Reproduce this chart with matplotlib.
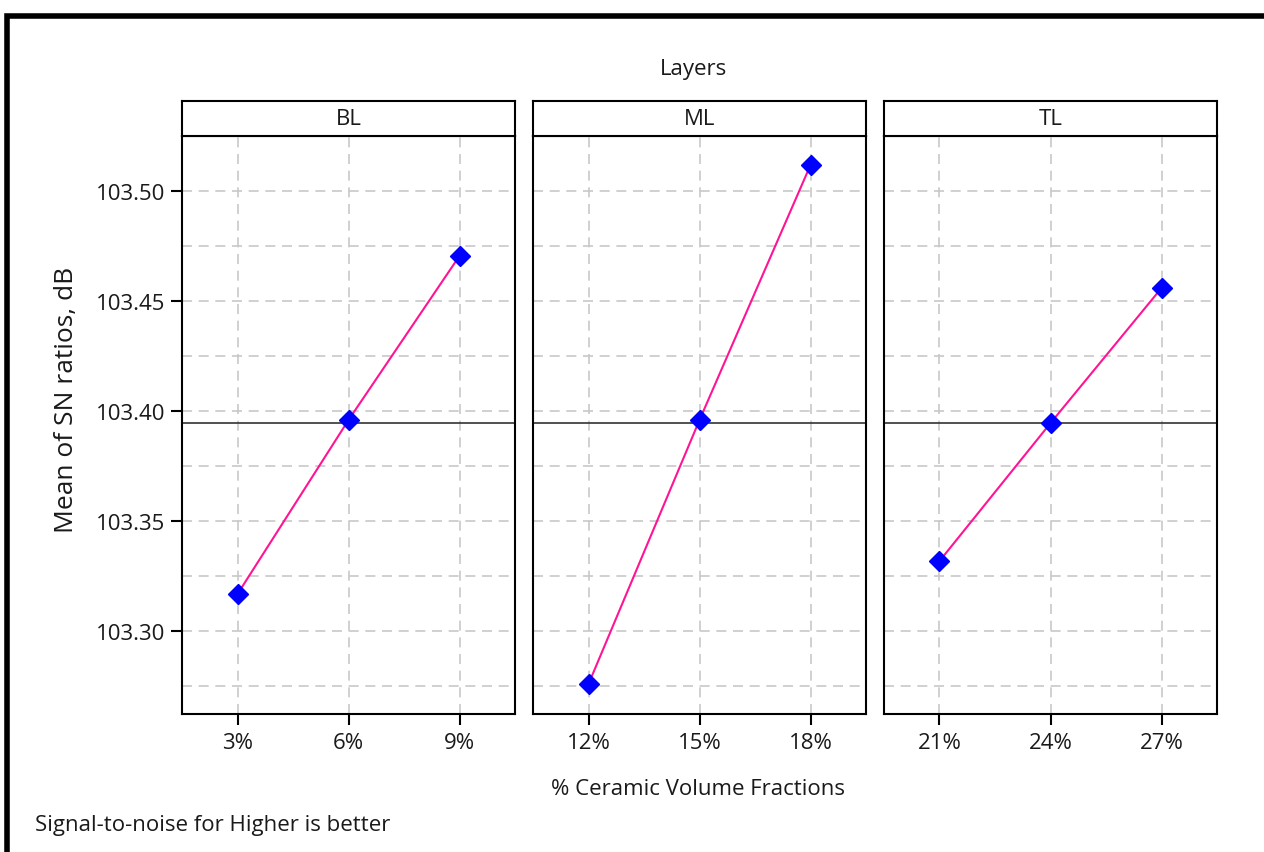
import matplotlib
matplotlib.use("Agg")
import matplotlib.pyplot as plt
from matplotlib.patches import Rectangle
import numpy as np

plt.rcParams['font.family'] = ['Open Sans', 'DejaVu Sans']

layers = ["BL", "ML", "TL"]
levels = [["3%", "6%", "9%"], ["12%", "15%", "18%"], ["21%", "24%", "27%"]]
sn_means = [
    [103.3168, 103.3959, 103.4705],
    [103.2759, 103.3959, 103.5118],
    [103.3318, 103.3945, 103.4559],
]
overall_mean = 103.3944
y_ticks = [103.30, 103.35, 103.40, 103.45, 103.50]
y_grid = [103.275, 103.30, 103.325, 103.35, 103.375, 103.40, 103.425, 103.45, 103.475, 103.50, 103.525]

W, H = 1264, 853
fig = plt.figure(figsize=(W / 100, H / 100), dpi=100)

# outer frame (left and top visible)
fig.patches.append(Rectangle((7 / W, -0.1), 1.2, (H - 17) / H + 0.1, transform=fig.transFigure,
                             fill=False, edgecolor='black', linewidth=4, clip_on=False))

panel_x = [182, 533, 884]
panel_w = 333
plot_top, plot_bot = 137, 715
strip_top = 102
txt = '#1a1a1a'

ylim = (103.2623, 103.525)
for i, layer in enumerate(layers):
    x0 = panel_x[i]
    ax = fig.add_axes([x0 / W, (H - plot_bot) / H, panel_w / W, (plot_bot - plot_top) / H])
    xs = np.arange(1, 4)
    ax.set_xlim(0.5, 3.5)
    ax.set_ylim(*ylim)
    for g in y_grid:
        ax.axhline(g, color='#c8c8c8', linestyle=(0, (6, 4)), linewidth=1.2, zorder=0)
    for xx in xs:
        ax.axvline(xx, color='#c8c8c8', linestyle=(0, (6, 4)), linewidth=1.2, zorder=0)
    ax.axhline(overall_mean, color='#333333', linewidth=1.2, zorder=1)
    ax.plot(xs, sn_means[i], color='#ff1493', linewidth=1.5, zorder=2,
            marker='D', markersize=10, markerfacecolor='#0000ff', markeredgecolor='#0000ff')
    ax.set_xticks(xs)
    ax.set_xticklabels(levels[i], fontsize=16, color=txt)
    ax.tick_params(axis='x', direction='out', length=8, width=1.5, pad=5)
    if i == 0:
        ax.set_yticks(y_ticks)
        ax.set_yticklabels([f"{v:.2f}" for v in y_ticks], fontsize=16, color=txt)
        ax.tick_params(axis='y', direction='out', length=8, width=1.5, pad=4)
        ax.set_ylabel("Mean of SN ratios, dB", fontsize=19, color=txt)
        ax.yaxis.set_label_coords((79 - x0) / panel_w, 0.545)
    else:
        ax.set_yticks([])
    for s in ax.spines.values():
        s.set_linewidth(1.5)
    # strip
    sax = fig.add_axes([x0 / W, (H - plot_top) / H, panel_w / W, (plot_top - strip_top) / H])
    sax.set_xticks([])
    sax.set_yticks([])
    for s in sax.spines.values():
        s.set_linewidth(1.5)
    sax.text(0.5, 0.5, layer, ha='center', va='center', fontsize=16, color=txt,
             transform=sax.transAxes)

fig.text(694 / W, 1 - 70 / H, "Layers", ha='center', va='center', fontsize=16, color=txt)
fig.text(698 / W, 1 - 790 / H, "% Ceramic Volume Fractions", ha='center', va='center', fontsize=16, color=txt)
fig.text(35 / W, 1 - 826 / H, "Signal-to-noise for Higher is better", ha='left', va='center', fontsize=16, color=txt)

fig.savefig("out.png", dpi=100)
